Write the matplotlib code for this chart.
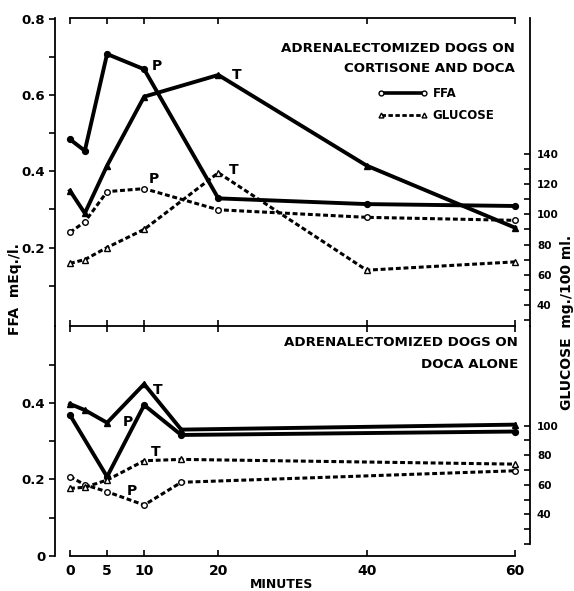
import matplotlib
matplotlib.use("Agg")
import matplotlib.pyplot as plt
from matplotlib.lines import Line2D

plt.rcParams["font.family"] = ["DejaVu Sans"]
plt.rcParams["font.weight"] = "bold"

# top panel: cortisone + DOCA
T_TOP = [0, 2, 5, 10, 20, 40, 60]
FFA_P_TOP = [0.484, 0.454, 0.708, 0.668, 0.329, 0.314, 0.309]
FFA_T_TOP = [0.349, 0.290, 0.415, 0.596, 0.653, 0.415, 0.252]
GLU_P_TOP = [88, 95, 115, 117, 103, 98, 96]
GLU_T_TOP = [67.5, 70, 78, 90, 127.5, 63, 68.5]

# bottom panel: DOCA alone
T_BOT_T = [0, 2, 5, 10, 15, 60]
T_BOT_P = [0, 5, 10, 15, 60]
FFA_P_BOT = [0.368, 0.207, 0.394, 0.316, 0.325]
FFA_T_BOT = [0.397, 0.381, 0.348, 0.449, 0.330, 0.343]
GLU_P_BOT = [65.6, 60, 55.3, 46.3, 61.7, 69.5]
GLU_T_BOT = [57.6, 58.3, 63.2, 76.3, 77.2, 74]

X_TICKS = [0, 5, 10, 20, 40, 60]

W, H = 574, 591
fig = plt.figure(figsize=(W / 100, H / 100), dpi=100)
ax_top = fig.add_axes([55 / W, 1 - 326.2 / H, 475 / W, (326.2 - 18) / H])
ax_bot = fig.add_axes([55 / W, 1 - 556 / H, 475 / W, (556 - 326.2) / H])
ax_top_r = ax_top.twinx()
ax_bot_r = ax_bot.twinx()

XLIM = (-2.02, 62.02)
SOLID = dict(color="black", lw=2.8, solid_joinstyle="miter")
DASH = dict(color="black", lw=2.2, ls=(0, (1.6, 0.9)))
OPEN = dict(mfc="white", mec="black", mew=1.0)

# --- top panel
ax_top.plot(T_TOP, FFA_P_TOP, marker="o", ms=4.2, **SOLID)
ax_top.plot(T_TOP, FFA_T_TOP, marker="^", ms=5, **SOLID)
ax_top_r.plot(T_TOP, GLU_P_TOP, marker="o", ms=4, **DASH, **OPEN)
ax_top_r.plot(T_TOP, GLU_T_TOP, marker="^", ms=4.5, **DASH, **OPEN)

# --- bottom panel
ax_bot.plot(T_BOT_P, FFA_P_BOT, marker="o", ms=4.2, **SOLID)
ax_bot.plot(T_BOT_T, FFA_T_BOT, marker="^", ms=5, **SOLID)
ax_bot_r.plot(T_BOT_T, GLU_P_BOT, marker="o", ms=4, **DASH, **OPEN)
ax_bot_r.plot(T_BOT_T, GLU_T_BOT, marker="^", ms=4.5, **DASH, **OPEN)

lab = dict(fontsize=10, fontweight="bold", textcoords="offset points", ha="center", va="center")
ax_top.annotate("P", (T_TOP[3], FFA_P_TOP[3]), xytext=(9, 2), **lab)
ax_top.annotate("T", (T_TOP[4], FFA_T_TOP[4]), xytext=(13, 0), **lab)
ax_top_r.annotate("P", (T_TOP[3], GLU_P_TOP[3]), xytext=(7, 7), **lab)
ax_top_r.annotate("T", (T_TOP[4], GLU_T_TOP[4]), xytext=(11, 2), **lab)
ax_bot.annotate("P", (T_BOT_P[2], FFA_P_BOT[2]), xytext=(-12, -12), **lab)
ax_bot.annotate("T", (T_BOT_T[3], FFA_T_BOT[3]), xytext=(10, -4), **lab)
ax_bot_r.annotate("T", (T_BOT_T[3], GLU_T_BOT[3]), xytext=(8, 6), **lab)
ax_bot_r.annotate("P", (T_BOT_T[3], GLU_P_BOT[3]), xytext=(-9, 10), **lab)

# --- axes styling
for ax in (ax_top, ax_bot, ax_top_r, ax_bot_r):
    ax.set_xlim(*XLIM)
    ax.set_facecolor("none")
    for s in ax.spines.values():
        s.set_linewidth(1.3)

ax_top.set_ylim(-0.0066, 0.8026)
ax_bot.set_ylim(0, 0.6)
ax_top_r.set_ylim(25.9, 230.0)
ax_bot_r.set_ylim(11.78, 167.4)

for ax in (ax_top_r, ax_bot_r):
    for k in ("left", "top", "bottom"):
        ax.spines[k].set_visible(False)
    ax.tick_params(axis="y", direction="in", length=4, width=1.2, pad=5, labelsize=7.5)
    ax.tick_params(axis="x", which="both", bottom=False, top=False, labelbottom=False)
ax_bot_r.spines["right"].set_bounds(20, 167.4)

ax_top.spines["right"].set_visible(False)
ax_top.spines["bottom"].set_visible(False)
ax_top.spines["top"].set_bounds(0, 60)
ax_bot.spines["right"].set_visible(False)
ax_bot.spines["top"].set_bounds(0, 60)
ax_bot.spines["bottom"].set_bounds(0, 60)

ax_top.set_xticks(X_TICKS)
ax_top.tick_params(axis="x", top=True, bottom=True, labelbottom=False, direction="in", length=4, width=1.2)
ax_bot.set_xticks(X_TICKS)
ax_bot.tick_params(axis="x", top=True, bottom=True, direction="in", length=4, width=1.2,
                   labelsize=10, pad=6)

ax_top.set_yticks([0.1, 0.2, 0.3, 0.4, 0.5, 0.6, 0.7, 0.8])
ax_top.set_yticklabels(["", "0.2", "", "0.4", "", "0.6", "", "0.8"])
ax_bot.set_yticks([0, 0.1, 0.2, 0.3, 0.4, 0.5])
ax_bot.set_yticklabels(["0", "", "0.2", "", "0.4", ""])
for ax in (ax_top, ax_bot):
    ax.tick_params(axis="y", direction="out", length=4, width=1.2, labelsize=9.5, pad=3)

ax_top_r.set_yticks(range(30, 150, 10))
ax_top_r.set_yticklabels([str(v) if v % 20 == 0 else "" for v in range(30, 150, 10)])
ax_bot_r.set_yticks(range(20, 110, 10))
ax_bot_r.set_yticklabels([str(v) if v % 20 == 0 and v >= 40 else "" for v in range(20, 110, 10)])

# --- text
txt = dict(fontsize=9.6, fontweight="bold", ha="right", va="center")
fig.text(515 / W, 1 - 49 / H, "ADRENALECTOMIZED DOGS ON", **txt)
fig.text(515 / W, 1 - 68.5 / H, "CORTISONE AND DOCA", **txt)
fig.text(518 / W, 1 - 343 / H, "ADRENALECTOMIZED DOGS ON", **txt)
fig.text(518 / W, 1 - 365 / H, "DOCA ALONE", **txt)

fig.text(15 / W, 1 - 289 / H, "FFA  mEq./l.", rotation=90, fontsize=10, fontweight="bold",
         ha="center", va="center")
fig.text(567 / W, 1 - 322 / H, "GLUCOSE  mg./100 ml.", rotation=90, fontsize=10, fontweight="bold",
         ha="center", va="center")
fig.text(282 / W, 1 - 584 / H, "MINUTES", fontsize=9, fontweight="bold", ha="center", va="center")

handles = [Line2D([], [], color="black", lw=2.6, marker="o", ms=3.5, mfc="white", mec="black"),
           Line2D([], [], color="black", lw=2.0, ls=(0, (1.6, 0.9)), marker="^", ms=3.5,
                  mfc="white", mec="black")]
leg = ax_top.legend(handles, ["FFA", "GLUCOSE"], loc="upper left", numpoints=2, frameon=False,
                    bbox_to_anchor=(377 / W, 1 - 87 / H), bbox_transform=fig.transFigure,
                    borderpad=0, borderaxespad=0, handlelength=4.3, handletextpad=0.4,
                    labelspacing=0.75, prop=dict(size=8.5, weight="bold"))

fig.savefig("out.png", dpi=100)
